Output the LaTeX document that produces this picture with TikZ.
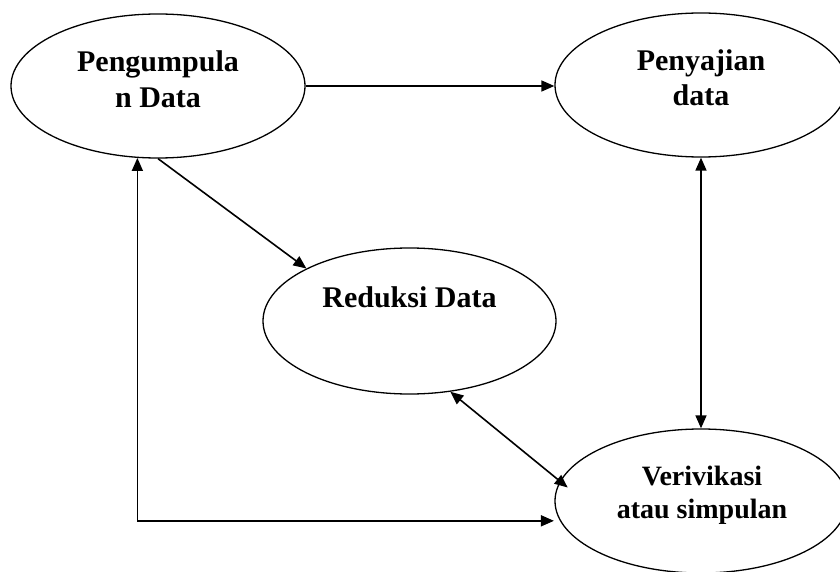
\documentclass[tikz,border=0pt]{standalone}
\usepackage{fontspec}
\setmainfont{Liberation Serif}
\usetikzlibrary{shapes.geometric,arrows.meta}
\begin{document}
\begin{tikzpicture}[x=1pt,y=-1pt,
  bubble/.style={draw, ellipse, line width=1.3pt, inner sep=0pt},
  lbl/.style={font=\bfseries\fontsize{30}{35.5}\selectfont, align=center, anchor=base, inner sep=0pt},
  lblsmall/.style={lbl, font=\bfseries\fontsize{28}{33}\selectfont},
  tip/.tip={Triangle[length=13pt,width=11pt]},
  conn/.style={line width=1.6pt, -tip},
  biconn/.style={line width=1.6pt, tip-tip}]
\useasboundingbox (0,0) rectangle (840,572);
% ellipses
\node[bubble, minimum width=294pt, minimum height=144pt] (P) at (158,86) {};
\node[bubble, minimum width=292pt, minimum height=144pt] (S) at (701,85) {};
\node[bubble, minimum width=293pt, minimum height=146pt] (R) at (409.5,321) {};
\node[bubble, minimum width=292pt, minimum height=144pt] (V) at (701,501) {};
% labels (base = baseline of last line)
\node[lbl] (Pt) at (158,107.3) {Pengumpula\\n Data};
\node[lbl] (St) at (701,106) {Penyajian\\data};
\node[lbl] (Rt) at (409.5,307) {Reduksi Data};
\node[lblsmall] (Vt) at (702,518.3) {Verivikasi\\atau simpulan};
% connectors
\draw[conn] (P.east) -- (P.east -| S.west);
\draw[conn] (P.south) -- (R.153);
\draw[biconn] (S.south) -- (V.north);
\draw[biconn, shorten >=-10pt] (R.-60) -- (V.172);
\draw[biconn, shorten >=6pt] (P.254) |- (V.188);
\end{tikzpicture}
\end{document}
